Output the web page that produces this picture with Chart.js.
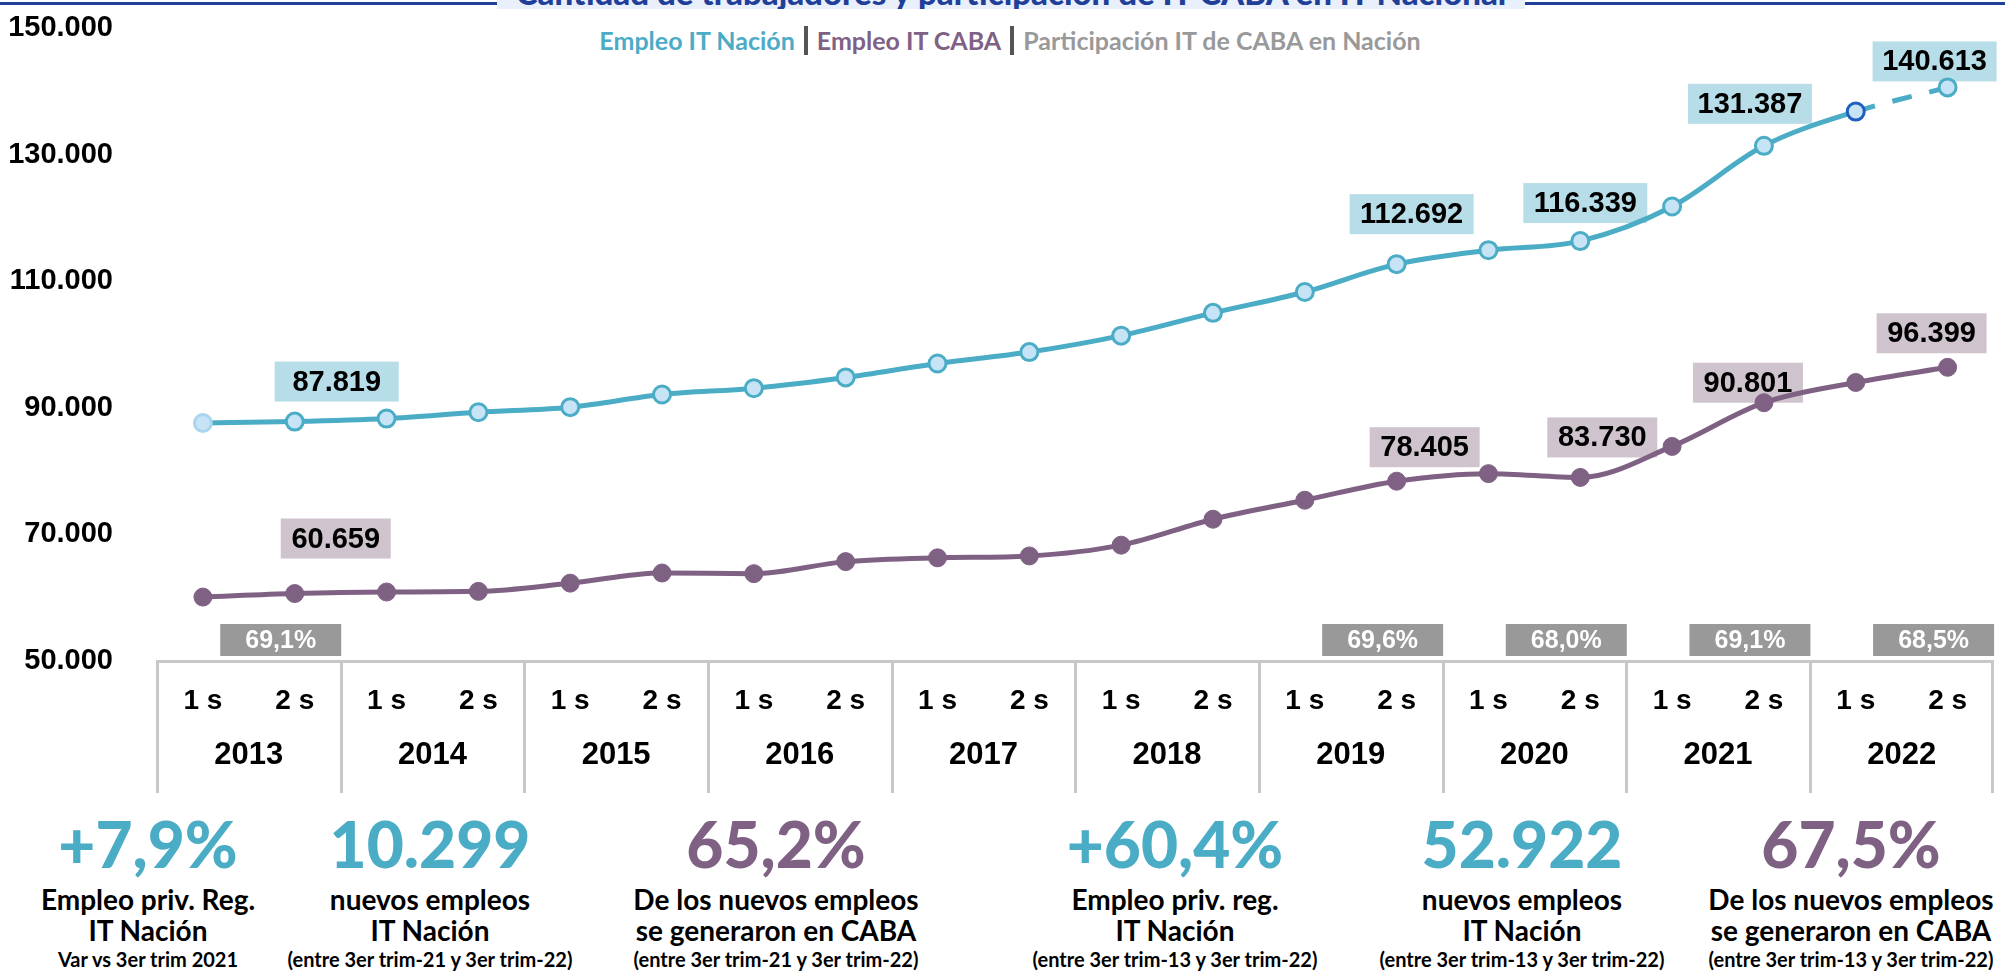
<!DOCTYPE html>
<html>
<head>
<meta charset="utf-8">
<script src="https://cdn.jsdelivr.net/npm/chart.js@4.4.1/dist/chart.umd.min.js"></script>
<style>
  body { margin: 0; width: 2005px; height: 972px; background: #fff; position: relative; overflow: hidden; font-family: Lato, 'Open Sans', sans-serif; }
  #rule { position: absolute; left: 0; top: 2px; width: 2005px; height: 3px; background: #1f3f99; }
  #titleBox { position: absolute; left: 497px; top: 0; width: 1028px; height: 9px; background: #e9f0fb; overflow: hidden; }
  #titleBox span { display: block; position: relative; top: -28px; width: 1028px; text-align: center; font: 900 33px/40px Lato, sans-serif; color: #1f3f99; white-space: nowrap; }
  #legend { position: absolute; left: 0; top: 25px; width: 2005px; text-align: center; font: bold 25px Lato, sans-serif; white-space: nowrap; padding-left: 15px; box-sizing: border-box; }
  #legend .sep { display: inline-block; width: 4px; height: 29px; background: #555; vertical-align: -5px; margin: 0 9px; }
  #chartWrap { position: absolute; left: 0; top: 0; width: 2005px; height: 793px; }
  .stat { position: absolute; width: 440px; top: 812px; text-align: center; color: #000; }
  .stat .big { font: 900 64px Lato, sans-serif; line-height: 64px; height: 64px; }
  .stat .txt { font: bold 28px Lato, sans-serif; line-height: 31px; margin-top: 8px; }
  .stat .small { font: bold 20px Lato, sans-serif; line-height: 26px; }
</style>
</head>
<body>
<div id="rule"></div>
<div id="titleBox"><span>Cantidad de trabajadores y participación de IT CABA en IT Nacional</span></div>
<div id="legend"></div>
<div id="chartWrap"><canvas id="chart"></canvas></div>
<div id="stats"></div>
<script>
'use strict';
// semestres y años del eje x
const semestres = ['1 s', '2 s', '1 s', '2 s', '1 s', '2 s', '1 s', '2 s', '1 s', '2 s',
    '1 s', '2 s', '1 s', '2 s', '1 s', '2 s', '1 s', '2 s', '1 s', '2 s'];
const anios = ['2013', '2014', '2015', '2016', '2017', '2018', '2019', '2020', '2021', '2022'];

// empleo IT
const empleoNacion = [87600, 87819, 88300, 89300, 90100, 92100, 93100, 94800, 97000, 98800,
    101400, 105000, 108300, 112692, 114900, 116339, 121800, 131387, 136800, 140613];
const empleoCaba = [60100, 60659, 60900, 61000, 62300, 63900, 63800, 65700, 66300, 66600,
    68300, 72400, 75400, 78405, 79600, 79000, 83900, 90801, 94000, 96399];

// etiquetas que aparecen sobre los puntos
const etiquetasNacion = [null, '87.819', null, null, null, null, null, null, null, null,
    null, null, null, '112.692', null, '116.339', null, '131.387', null, '140.613'];
const etiquetasCaba = [null, '60.659', null, null, null, null, null, null, null, null,
    null, null, null, '78.405', null, '83.730', null, '90.801', null, '96.399'];
const participacion = [null, '69,1%', null, null, null, null, null, null, null, null,
    null, null, null, '69,6%', null, '68,0%', null, '69,1%', null, '68,5%'];

// indicadores de abajo
const statValores = ['+7,9%', '10.299', '65,2%', '+60,4%', '52.922', '67,5%'];
const statTextos = [
    ['Empleo priv. Reg.', 'IT Nación'],
    ['nuevos empleos', 'IT Nación'],
    ['De los nuevos empleos', 'se generaron en CABA'],
    ['Empleo priv. reg.', 'IT Nación'],
    ['nuevos empleos', 'IT Nación'],
    ['De los nuevos empleos', 'se generaron en CABA']
];
const statNotas = ['Var vs 3er trim 2021', '(entre 3er trim-21 y 3er trim-22)', '(entre 3er trim-21 y 3er trim-22)',
    '(entre 3er trim-13 y 3er trim-22)', '(entre 3er trim-13 y 3er trim-22)', '(entre 3er trim-13 y 3er trim-22)'];

const colorNacion = '#4bacc6';
const colorCaba = '#7f6184';
const colorGris = '#999999';
const statColores = [colorNacion, colorNacion, colorCaba, colorNacion, colorNacion, colorCaba];
const statCentros = [148, 430, 776, 1175, 1522, 1851];

// desplazamiento de las cajas respecto del punto
const offNacion = {1: [42, -40], 13: [15, -50], 15: [5, -38], 17: [-14, -42], 19: [-13, -26]};
const offCaba = {1: [41, -55], 13: [28, -34], 15: [22, -40], 17: [-16, -20], 19: [-16, -34]};

const arial = '"Liberation Sans", Arial, sans-serif';

function fmtMiles(v) {
    return String(v).replace(/\B(?=(\d{3})+(?!\d))/g, '.');
}

// leyenda y bloque de indicadores en html
document.getElementById('legend').innerHTML =
    '<span style="color:' + colorNacion + '">Empleo IT Nación</span><span class="sep"></span>' +
    '<span style="color:' + colorCaba + '">Empleo IT CABA</span><span class="sep"></span>' +
    '<span style="color:' + colorGris + '">Participación IT de CABA en Nación</span>';

const stats = document.getElementById('stats');
for (let i = 0; i < statValores.length; i++) {
    const d = document.createElement('div');
    d.className = 'stat';
    d.style.left = (statCentros[i] - 220) + 'px';
    d.innerHTML = '<div class="big" style="color:' + statColores[i] + '">' + statValores[i] + '</div>' +
        '<div class="txt">' + statTextos[i].join('<br>') + '</div>' +
        '<div class="small">' + statNotas[i] + '</div>';
    stats.appendChild(d);
}

function cajaTexto(ctx, cx, cy, w, h, fondo, texto, colorTexto, font) {
    ctx.fillStyle = fondo;
    ctx.fillRect(cx - w / 2, cy - h / 2, w, h);
    ctx.fillStyle = colorTexto;
    ctx.font = font;
    ctx.textAlign = 'center';
    ctx.textBaseline = 'middle';
    ctx.fillText(texto, cx, cy + 1);
}

// cajas de valores y participación (debajo de las líneas)
const etiquetasPlugin = {
    id: 'etiquetas',
    beforeDatasetsDraw(chart) {
        const ctx = chart.ctx;
        const mN = chart.getDatasetMeta(0).data;
        const mC = chart.getDatasetMeta(1).data;
        ctx.save();
        for (let i = 0; i < semestres.length; i++) {
            if (etiquetasNacion[i]) {
                const o = offNacion[i] || [0, -40];
                cajaTexto(ctx, mN[i].x + o[0], mN[i].y + o[1], 124, 40, '#b7dde8', etiquetasNacion[i], '#000', 'bold 29px ' + arial);
            }
            if (etiquetasCaba[i]) {
                const o = offCaba[i] || [0, -40];
                cajaTexto(ctx, mC[i].x + o[0], mC[i].y + o[1], 110, 40, '#cfc3ce', etiquetasCaba[i], '#000', 'bold 29px ' + arial);
            }
            if (participacion[i]) {
                cajaTexto(ctx, mN[i].x - 14, chart.chartArea.bottom - 21, 121, 32, colorGris, participacion[i], '#fff', 'bold 25px ' + arial);
            }
        }
        ctx.restore();
    },
    afterDraw(chart) {
        // líneas verticales de la tabla de años
        const ctx = chart.ctx;
        const x2 = chart.scales.x2;
        const banda = (x2.right - x2.left) / anios.length;
        ctx.save();
        ctx.strokeStyle = '#c8c8c8';
        ctx.lineWidth = 3;
        for (let i = 0; i <= anios.length; i++) {
            let px = i < anios.length ? x2.getPixelForValue(i) - banda / 2 : x2.right - 2;
            px = Math.round(px) + 0.5;
            ctx.beginPath();
            ctx.moveTo(px, chart.chartArea.bottom);
            ctx.lineTo(px, x2.bottom);
            ctx.stroke();
        }
        ctx.restore();
    }
};

// primer punto sin borde marcado, el de 2022 1s con borde azul oscuro
const puntoBordeNacion = empleoNacion.map((v, i) => i === 18 ? '#1f5fbf' : (i === 0 ? '#a9d6ee' : colorNacion));

const chart = new Chart(document.getElementById('chart'), {
    type: 'line',
    data: {
        labels: semestres,
        datasets: [{
            label: 'Empleo IT Nación',
            data: empleoNacion,
            borderColor: colorNacion,
            backgroundColor: '#c6e4f6',
            borderWidth: 5,
            pointRadius: 8.5,
            pointBorderWidth: 3,
            pointBackgroundColor: '#c6e4f6',
            pointBorderColor: puntoBordeNacion,
            cubicInterpolationMode: 'monotone',
            segment: {
                borderDash: ctx => ctx.p0DataIndex === 18 ? [20, 18] : undefined
            }
        }, {
            label: 'Empleo IT CABA',
            data: empleoCaba,
            borderColor: colorCaba,
            backgroundColor: colorCaba,
            borderWidth: 5,
            pointRadius: 9,
            pointBorderWidth: 1,
            pointBackgroundColor: colorCaba,
            pointBorderColor: colorCaba,
            cubicInterpolationMode: 'monotone'
        }]
    },
    options: {
        responsive: true,
        maintainAspectRatio: false,
        animation: false,
        layout: {padding: {top: 28, left: 0, right: 0, bottom: 0}},
        plugins: {
            legend: {display: false},
            tooltip: {enabled: false}
        },
        scales: {
            y: {
                min: 50000,
                max: 150000,
                ticks: {
                    stepSize: 20000,
                    callback: v => fmtMiles(v),
                    color: '#000',
                    padding: 44,
                    font: {family: arial, size: 29, weight: 'bold'}
                },
                grid: {display: false, drawTicks: false},
                border: {display: false},
                afterFit: s => {
                    s.width = 157;
                    s.paddingTop = 0;
                    s.paddingBottom = 0;
                }
            },
            x: {
                type: 'category',
                offset: true,
                grid: {display: false, drawTicks: false},
                border: {display: true, color: '#c8c8c8', width: 3},
                ticks: {
                    color: '#000',
                    padding: 23,
                    maxRotation: 0,
                    autoSkip: false,
                    font: {family: arial, size: 28, weight: 'bold'}
                },
                afterFit: s => { s.height = 57; }
            },
            x2: {
                type: 'category',
                position: 'bottom',
                labels: anios,
                offset: true,
                grid: {display: false, drawTicks: false},
                border: {display: false},
                ticks: {
                    color: '#000',
                    padding: 19,
                    maxRotation: 0,
                    autoSkip: false,
                    font: {family: arial, size: 31, weight: 'bold'}
                },
                afterFit: s => { s.height = 75; }
            }
        }
    },
    plugins: [etiquetasPlugin]
});
</script>
</body>
</html>
